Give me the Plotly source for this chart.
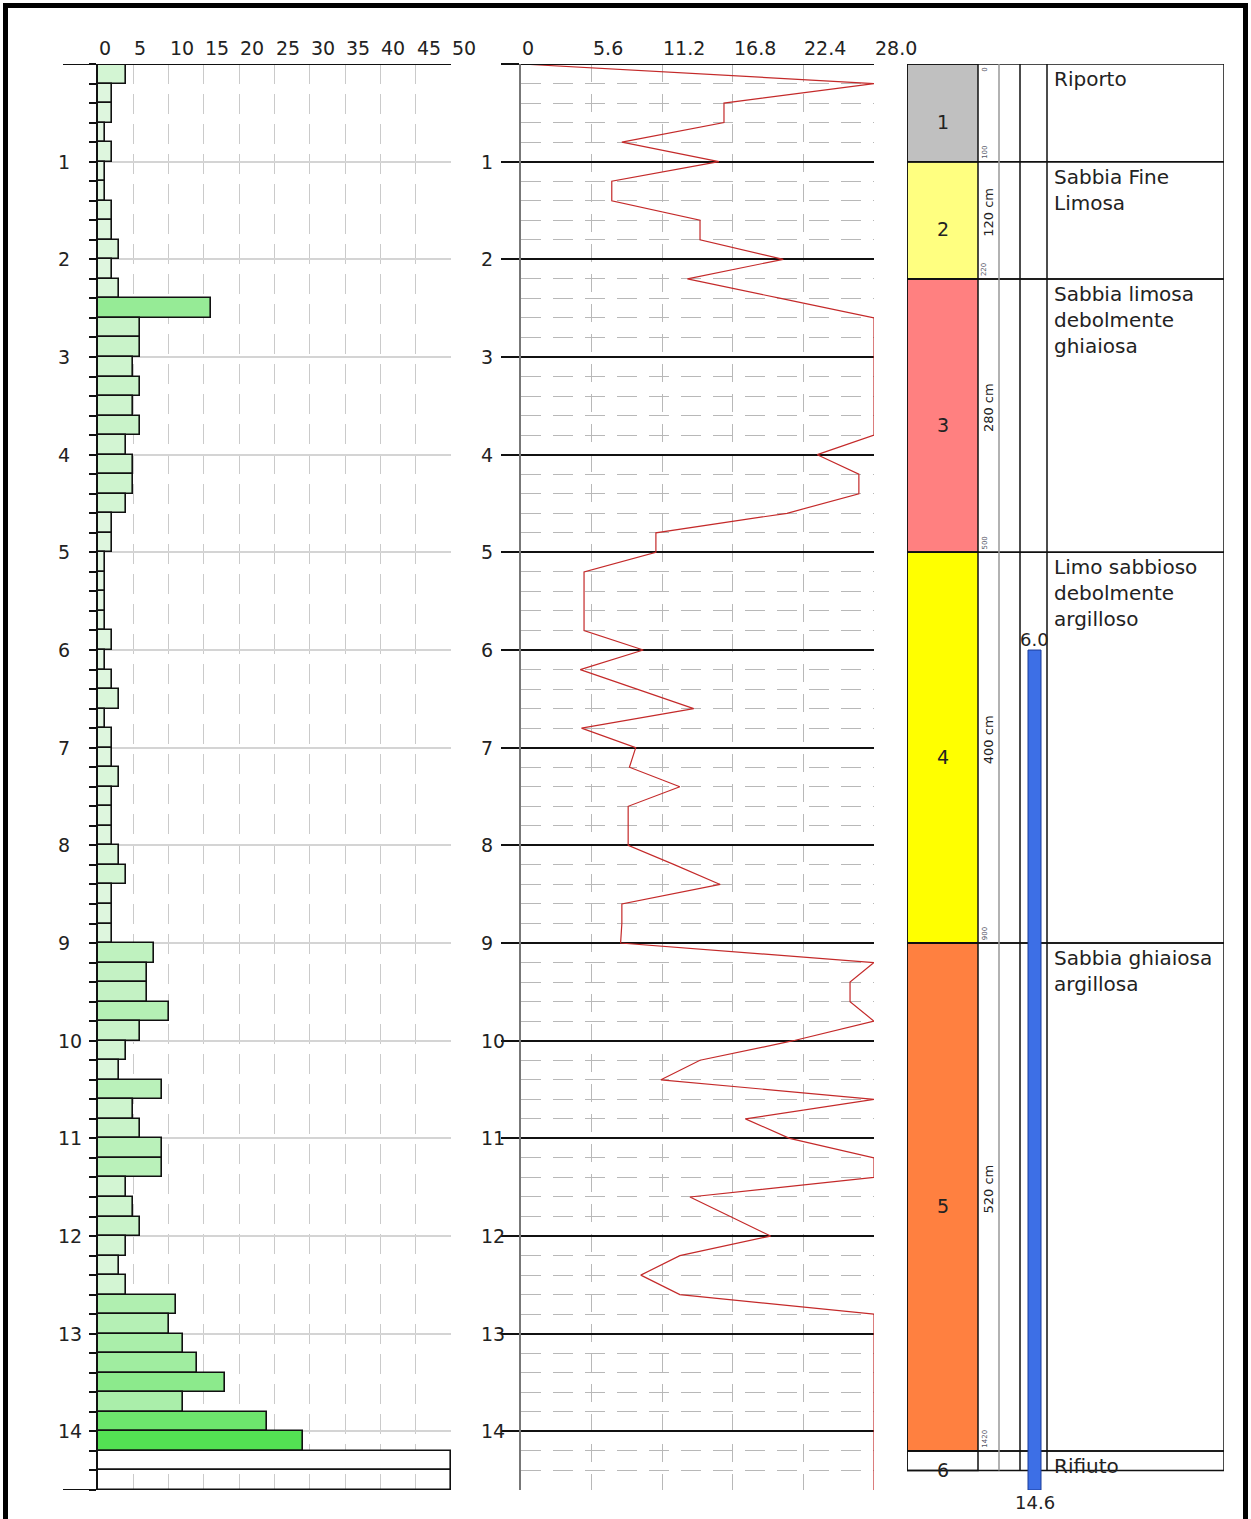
import plotly.graph_objects as go

W, H = 1251, 1519

# ---------------- DATA ----------------
# Panel 1: blow counts per 20 cm interval (top depth of each interval, m)
bar_top = [0.0, 0.2, 0.4, 0.6, 0.8, 1.0, 1.2, 1.4, 1.6, 1.8, 2.0, 2.2, 2.4, 2.6, 2.8,
           3.0, 3.2, 3.4, 3.6, 3.8, 4.0, 4.2, 4.4, 4.6, 4.8, 5.0, 5.2, 5.4, 5.6, 5.8,
           6.0, 6.2, 6.4, 6.6, 6.8, 7.0, 7.2, 7.4, 7.6, 7.8, 8.0, 8.2, 8.4, 8.6, 8.8,
           9.0, 9.2, 9.4, 9.6, 9.8, 10.0, 10.2, 10.4, 10.6, 10.8, 11.0, 11.2, 11.4, 11.6, 11.8,
           12.0, 12.2, 12.4, 12.6, 12.8, 13.0, 13.2, 13.4, 13.6, 13.8, 14.0, 14.2, 14.4]
blows = [4, 2, 2, 1, 2, 1, 1, 2, 2, 3, 2, 3, 16, 6, 6,
         5, 6, 5, 6, 4, 5, 5, 4, 2, 2, 1, 1, 1, 1, 2,
         1, 2, 3, 1, 2, 2, 3, 2, 2, 2, 3, 4, 2, 2, 2,
         8, 7, 7, 10, 6, 4, 3, 9, 5, 6, 9, 9, 4, 5, 6,
         4, 3, 4, 11, 10, 12, 14, 18, 12, 24, 29, 50, 50]
BAR_H = 0.2
x1_ticks = [0, 5, 10, 15, 20, 25, 30, 35, 40, 45, 50]

# Panel 2: resistance profile
res_depth = [0.0, 0.2, 0.4, 0.6, 0.8, 1.0, 1.2, 1.4, 1.6, 1.8, 2.0, 2.2, 2.4, 2.6, 2.8,
             3.0, 3.2, 3.4, 3.6, 3.8, 4.0, 4.2, 4.4, 4.6, 4.8, 5.0, 5.2, 5.4, 5.6, 5.8,
             6.0, 6.2, 6.4, 6.6, 6.8, 7.0, 7.2, 7.4, 7.6, 7.8, 8.0, 8.2, 8.4, 8.6, 8.8,
             9.0, 9.2, 9.4, 9.6, 9.8, 10.0, 10.2, 10.4, 10.6, 10.8, 11.0, 11.2, 11.4, 11.6, 11.8,
             12.0, 12.2, 12.4, 12.6, 12.8, 13.0, 13.2, 13.4, 13.6, 13.8, 14.0, 14.2, 14.4, 14.6]
res_val = [0.0, 28.0, 16.1, 16.1, 8.0, 15.7, 7.2, 7.2, 14.2, 14.2, 20.8, 13.2, 20.6, 28.0, 28.0,
           28.0, 28.0, 28.0, 28.0, 28.0, 23.5, 26.8, 26.8, 21.1, 10.7, 10.7, 5.0, 5.0, 5.0, 5.0,
           9.7, 4.7, 9.2, 13.7, 4.8, 9.1, 8.6, 12.6, 8.5, 8.5, 8.5, 12.2, 15.8, 8.0, 8.0,
           7.9, 28.0, 26.1, 26.1, 28.0, 21.6, 14.2, 11.1, 28.0, 17.8, 21.3, 28.0, 28.0, 13.4, 16.6,
           19.8, 12.6, 9.5, 12.6, 28.0, 28.0, 28.0, 28.0, 28.0, 28.0, 28.0, 28.0, 28.0, 28.0]
x2_ticks = [0, 5.6, 11.2, 16.8, 22.4, 28.0]
x2_tick_text = ["0", "5.6", "11.2", "16.8", "22.4", "28.0"]

depth_labels = [1, 2, 3, 4, 5, 6, 7, 8, 9, 10, 11, 12, 13, 14]

# Panel 3: stratigraphy
layer_ids = ["1", "2", "3", "4", "5", "6"]
layer_top = [0.0, 1.0, 2.2, 5.0, 9.0, 14.2]
layer_bot = [1.0, 2.2, 5.0, 9.0, 14.2, 14.4]
layer_desc = ["Riporto", "Sabbia Fine<br>Limosa", "Sabbia limosa<br>debolmente<br>ghiaiosa",
              "Limo sabbioso<br>debolmente<br>argilloso", "Sabbia ghiaiosa<br>argillosa", "Rifiuto"]
layer_thick = ["", "120 cm", "280 cm", "400 cm", "520 cm", ""]
layer_bot_lbl = ["100", "220", "500", "900", "1420", ""]
layer_colors = ["#c0c0c0", "#ffff80", "#ff8080", "#ffff00", "#ff8040", "#ffffff"]
wt_top, wt_bot = 6.0, 14.6
DEPTH_MAX = 14.6

# ---------------- STYLE / GEOMETRY ----------------
FONT = "DejaVu Sans"
TXT = "#222"
def px(p):
    return p / W
def py(p):
    return 1 - p / H

YDOM = [py(1490), py(64)]
X1DOM = [px(98), px(451)]
X2DOM = [px(521), px(874)]
X3DOM = [px(907), px(1224)]
P3W = 1224 - 907
C_COLOR = (978 - 907) / P3W
C_THICK = (999 - 907) / P3W
C_MID = (1020 - 907) / P3W
C_DESC = (1047 - 907) / P3W
WT_X0 = (1028 - 907) / P3W
WT_X1 = (1041 - 907) / P3W


def bar_color(v):
    if v >= 50:
        return "#ffffff"
    t = min(v, 30) / 30.0
    a = (232, 248, 232)
    b = (78, 224, 78)
    c = [round(a[i] + (b[i] - a[i]) * t) for i in range(3)]
    return "rgb(%d,%d,%d)" % tuple(c)

bar_cols = [bar_color(v) for v in blows]
bar_cols[-1] = "rgba(255,255,255,0)"
bar_mid = [t + BAR_H / 2 for t in bar_top]

fig = go.Figure()
fig.add_trace(go.Bar(x=blows, y=bar_mid, orientation="h", width=BAR_H, base=0,
                     marker=dict(color=bar_cols, line=dict(color="#111", width=1.6)),
                     xaxis="x", yaxis="y", hoverinfo="skip", showlegend=False))
fig.add_trace(go.Scatter(x=res_val, y=res_depth, mode="lines",
                         line=dict(color="#c42a2a", width=1.2),
                         xaxis="x2", yaxis="y2", hoverinfo="skip", showlegend=False))
fig.add_trace(go.Scatter(x=[None], y=[None], xaxis="x3", yaxis="y3", showlegend=False,
                         hoverinfo="skip"))

common_y = dict(domain=YDOM, range=[DEPTH_MAX, 0], zeroline=False, showticklabels=False,
                fixedrange=True)

fig.update_layout(
    width=W, height=H, margin=dict(l=0, r=0, t=0, b=0),
    paper_bgcolor="white", plot_bgcolor="rgba(0,0,0,0)", showlegend=False,
    font=dict(family=FONT, size=19, color=TXT),
    bargap=0,
    xaxis=dict(domain=X1DOM, range=[0, 50], anchor="y", side="top", tick0=0, dtick=5,
               showgrid=True, gridcolor="#cacaca", gridwidth=1, griddash="20px,10px",
               showticklabels=False, zeroline=False, showline=False, ticks="", fixedrange=True),
    yaxis=dict(**common_y, anchor="x", tick0=0, dtick=1, showgrid=True, gridcolor="#d4d4d4",
               gridwidth=1.5, ticks="outside", ticklen=7, tickwidth=2, tickcolor="#111",
               showline=True, linecolor="#111", linewidth=2,
               minor=dict(dtick=0.2, ticks="outside", ticklen=7, tickwidth=2,
                          tickcolor="#111", showgrid=False)),
    xaxis2=dict(domain=X2DOM, range=[0, 28], anchor="y2", side="top", tick0=0, dtick=5.6,
                showgrid=True, gridcolor="#b8b8b8", gridwidth=1, griddash="18px,12px",
                showticklabels=False, zeroline=False, showline=False, ticks="", fixedrange=True),
    yaxis2=dict(**common_y, anchor="x2", tick0=0, dtick=1, showgrid=True, gridcolor="#111",
                gridwidth=2, ticks="outside", ticklen=18, tickwidth=2, tickcolor="#111",
                showline=True, linecolor="#777", linewidth=1.5,
                minor=dict(dtick=0.2, ticks="", showgrid=True, gridcolor="#b8b8b8",
                           gridwidth=1, griddash="20px,12px")),
    xaxis3=dict(domain=X3DOM, range=[0, 1], anchor="y3", visible=False, fixedrange=True),
    yaxis3=dict(**common_y, anchor="x3", visible=False, showgrid=False),
)

shapes = []
ann = []

# Panel 1 frame lines
shapes.append(dict(type="line", xref="paper", yref="y", x0=px(63), x1=X1DOM[1], y0=0, y1=0,
                   line=dict(color="#111", width=2)))
shapes.append(dict(type="line", xref="paper", yref="y", x0=px(63), x1=X1DOM[1],
                   y0=DEPTH_MAX, y1=DEPTH_MAX, line=dict(color="#111", width=2)))
# Panel 2 top line
shapes.append(dict(type="line", xref="paper", yref="y2", x0=X2DOM[0], x1=X2DOM[1], y0=0, y1=0,
                   line=dict(color="#111", width=2)))

# Tick labels (left aligned at tick)
for v in x1_ticks:
    ann.append(dict(x=v, xref="x", y=YDOM[1], yref="paper", text=str(v), showarrow=False,
                    xanchor="left", yanchor="bottom", xshift=-1, yshift=3,
                    font=dict(size=19, family=FONT, color=TXT)))
for v, t in zip(x2_ticks, x2_tick_text):
    ann.append(dict(x=v, xref="x2", y=YDOM[1], yref="paper", text=t, showarrow=False,
                    xanchor="left", yanchor="bottom", xshift=-1, yshift=3,
                    font=dict(size=19, family=FONT, color=TXT)))
for d in depth_labels:
    ann.append(dict(x=px(56), xref="paper", y=d, yref="y", text=str(d), showarrow=False,
                    xanchor="left", yanchor="middle", font=dict(size=19, family=FONT, color=TXT)))
    ann.append(dict(x=px(479), xref="paper", y=d, yref="y2", text=str(d), showarrow=False,
                    xanchor="left", yanchor="middle", font=dict(size=19, family=FONT, color=TXT)))

# Panel 3: stratigraphy
for i in range(len(layer_ids)):
    t, b = layer_top[i], layer_bot[i]
    shapes.append(dict(type="rect", xref="x3", yref="y3", x0=0, x1=C_COLOR, y0=t, y1=b,
                       fillcolor=layer_colors[i], line=dict(color="#111", width=1.5), layer="below"))
    shapes.append(dict(type="rect", xref="x3", yref="y3", x0=0, x1=1, y0=t, y1=b,
                       fillcolor="rgba(0,0,0,0)", line=dict(color="#111", width=1.5)))
    mid = (t + b) / 2
    ann.append(dict(x=C_COLOR / 2, xref="x3", y=mid, yref="y3", text=layer_ids[i],
                    showarrow=False, yshift=-9, font=dict(size=19, family=FONT, color=TXT)))
    ann.append(dict(x=C_DESC, xref="x3", y=t, yref="y3", text=layer_desc[i], showarrow=False,
                    xanchor="left", yanchor="top", align="left", xshift=5, yshift=-1,
                    font=dict(size=20, family=FONT, color=TXT)))
    if layer_thick[i]:
        ann.append(dict(x=(C_COLOR + C_THICK) / 2, xref="x3", y=mid, yref="y3",
                        text=layer_thick[i], textangle=-90, showarrow=False, yshift=8,
                        font=dict(size=13, family=FONT, color=TXT)))
    if layer_bot_lbl[i]:
        ann.append(dict(x=(C_COLOR + C_THICK) / 2 - 0.012, xref="x3", y=b, yref="y3",
                        text=layer_bot_lbl[i], textangle=-90, showarrow=False,
                        yanchor="bottom", yshift=1, font=dict(size=7, family=FONT, color="#556")))
ann.append(dict(x=(C_COLOR + C_THICK) / 2 - 0.012, xref="x3", y=layer_top[0], yref="y3",
                text="0", textangle=-90, showarrow=False, yanchor="top", yshift=-2,
                font=dict(size=7, family=FONT, color="#556")))

for c, col in [(C_THICK, "#999"), (C_MID, "#111"), (C_DESC, "#111")]:
    shapes.append(dict(type="line", xref="x3", yref="y3", x0=c, x1=c, y0=layer_top[0],
                       y1=layer_bot[-1], line=dict(color=col, width=1.5)))

# water / hole bar
shapes.append(dict(type="rect", xref="x3", yref="y3", x0=WT_X0, x1=WT_X1, y0=wt_top, y1=wt_bot,
                   fillcolor="#3d6fe6", line=dict(color="#1b3d99", width=1)))
ann.append(dict(x=(WT_X0 + WT_X1) / 2, xref="x3", y=wt_top, yref="y3", text="%.1f" % wt_top,
                showarrow=False, yanchor="bottom", yshift=-2,
                font=dict(size=18, family=FONT, color=TXT)))
ann.append(dict(x=(WT_X0 + WT_X1) / 2, xref="x3", y=wt_bot, yref="y3", text="%.1f" % wt_bot,
                showarrow=False, yanchor="top", yshift=0,
                font=dict(size=18, family=FONT, color=TXT)))

# outer frame
shapes.append(dict(type="rect", xref="paper", yref="paper", x0=px(5.5), x1=px(1245.5),
                   y0=-0.02, y1=py(5.5), line=dict(color="#000", width=5),
                   fillcolor="rgba(0,0,0,0)"))

fig.update_layout(shapes=shapes, annotations=ann)
fig.write_html("out.html", config={"displayModeBar": False},
               post_script="document.body.style.margin='0px';document.body.style.padding='0px';"
                           "document.body.style.overflow='hidden';")
